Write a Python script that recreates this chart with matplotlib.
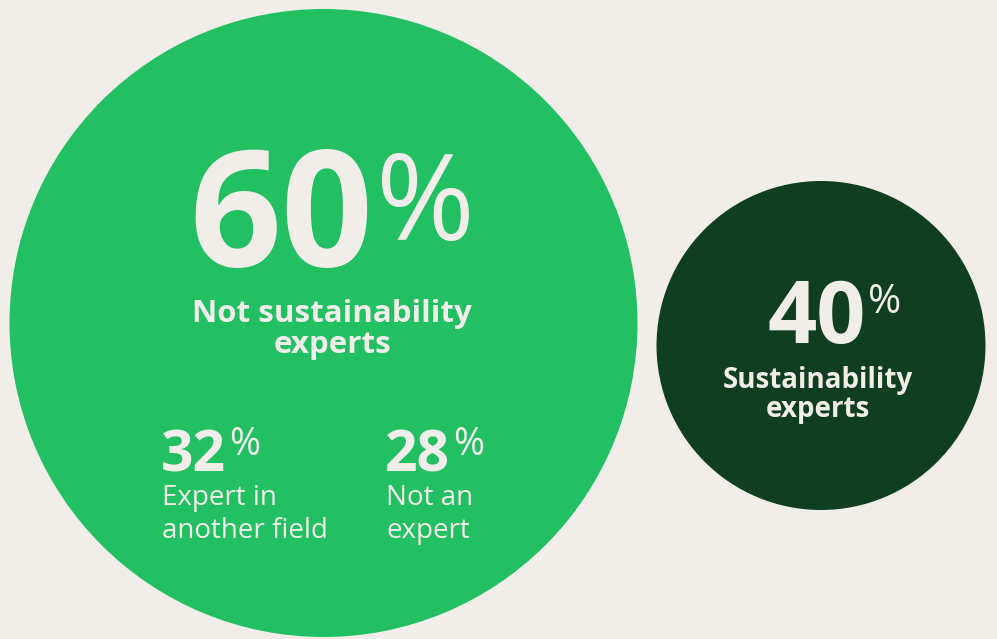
import matplotlib.pyplot as plt
from matplotlib.patches import Circle

# survey split
main_shares = [60, 40]
main_labels = [["Not sustainability", "experts"], ["Sustainability", "experts"]]
sub_shares = [32, 28]
sub_labels = [["Expert in", "another field"], ["Not an", "expert"]]

bg = "#F1EEEA"
light_green = "#22C063"
dark_green = "#0F3F1E"
txt = "#F1EEEA"
font = ["Open Sans", "DejaVu Sans"]

fig = plt.figure(figsize=(9.97, 6.39), dpi=100, facecolor=bg)
ax = fig.add_axes([0, 0, 1, 1])
ax.set_xlim(0, 997)
ax.set_ylim(639, 0)
ax.set_aspect("equal")
ax.axis("off")

ax.add_patch(Circle((323.5, 323), 314, color=light_green, lw=0))
ax.add_patch(Circle((821, 345.5), 164.5, color=dark_green, lw=0))


def lines(x, y0, step, rows, ha, size, weight):
    for i, row in enumerate(rows):
        ax.text(x, y0 + i * step, row, ha=ha, va="baseline", color=txt,
                fontsize=size, fontweight=weight, family=font)


# 60% - not sustainability experts
ax.text(373, 266, str(main_shares[0]), ha="right", va="baseline", color=txt,
        fontsize=116, fontweight="bold", family=font)
ax.text(376, 240, "%", ha="left", va="baseline", color=txt,
        fontsize=86, family=font)
lines(332, 322, 31, main_labels[0], "center", 22.5, "bold")

# breakdown of the 60%
for x0, val, lab in zip([161, 385], sub_shares, sub_labels):
    ax.text(x0, 472, str(val), ha="left", va="baseline", color=txt,
            fontsize=41, fontweight="bold", family=font)
    ax.text(x0 + 68, 455, "%", ha="left", va="baseline", color=txt,
            fontsize=27, family=font)
    lines(x0 + 1, 505, 33, lab, "left", 20, "normal")

# 40% - sustainability experts
ax.text(866, 343, str(main_shares[1]), ha="right", va="baseline", color=txt,
        fontsize=62, fontweight="bold", family=font)
ax.text(868, 313, "%", ha="left", va="baseline", color=txt,
        fontsize=29, family=font)
lines(818, 388, 28.5, main_labels[1], "center", 20, "bold")

fig.savefig("out.png", dpi=100, facecolor=bg)
